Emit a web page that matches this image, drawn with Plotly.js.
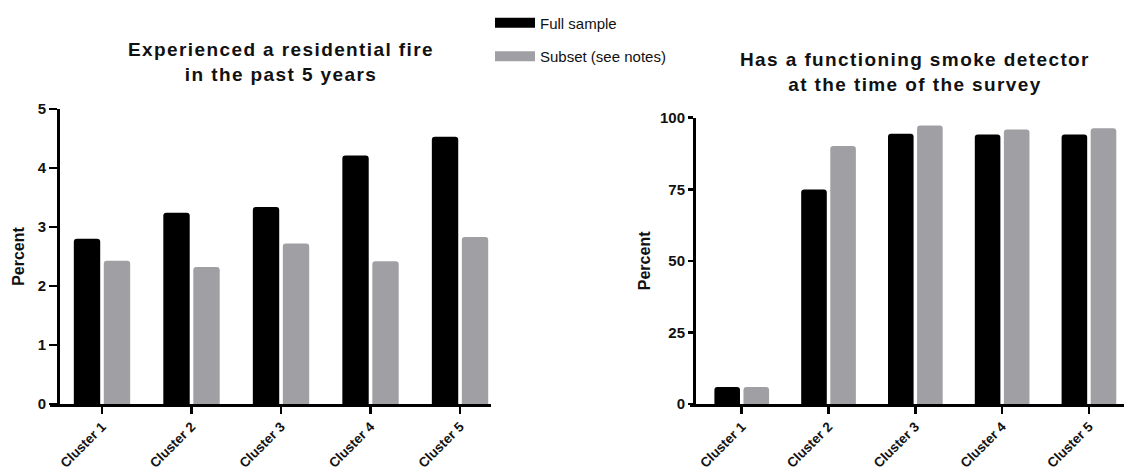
<!DOCTYPE html>
<html>
<head>
<meta charset="utf-8">
<script src="https://cdn.plot.ly/plotly-3.0.1.min.js"></script>
<style>
  html, body { margin: 0; padding: 0; background: #ffffff; }
  #chart { width: 1124px; height: 472px; }
  .annotation-text { letter-spacing: 1.4px; }
</style>
</head>
<body>
<div id="chart"></div>
<script>
// ---- data ----
const categories = ['Cluster 1', 'Cluster 2', 'Cluster 3', 'Cluster 4', 'Cluster 5'];
const seriesNames = ['Full sample', 'Subset (see notes)'];
const fireFull = [2.80, 3.24, 3.34, 4.21, 4.53];
const fireSubset = [2.43, 2.32, 2.72, 2.42, 2.83];
const detectorFull = [5.9, 74.9, 94.4, 94.1, 94.1];
const detectorSubset = [5.9, 90.1, 97.3, 95.9, 96.3];
const fireTicks = [0, 1, 2, 3, 4, 5];
const detectorTicks = [0, 25, 50, 75, 100];
const titleLeft = 'Experienced a residential fire<br>in the past 5 years';
const titleRight = 'Has a functioning smoke detector<br>at the time of the survey';
const yTitle = 'Percent';

// ---- styling ----
const BLACK = '#000000';
const GRAY = '#a0a0a4';
const FONT = 'Liberation Sans, Arial, Helvetica, sans-serif';
const W = 1124, H = 472;
const px = v => v / W;
const py = v => (H - v) / H;

function bar(x, y, color, xa, ya, name) {
  return {
    type: 'bar', x: x, y: y, name: name,
    marker: { color: color, line: { width: 0 } },
    xaxis: xa, yaxis: ya, showlegend: false, hoverinfo: 'x+y'
  };
}

const traces = [
  bar(categories, fireFull, BLACK, 'x', 'y', seriesNames[0]),
  bar(categories, fireSubset, GRAY, 'x', 'y', seriesNames[1]),
  bar(categories, detectorFull, BLACK, 'x2', 'y2', seriesNames[0]),
  bar(categories, detectorSubset, GRAY, 'x2', 'y2', seriesNames[1]),
  // legend-only entries
  { type: 'scatter', mode: 'lines', x: [null], y: [null], name: seriesNames[0],
    line: { color: BLACK, width: 11 }, legendgroup: 'a', showlegend: true, xaxis: 'x', yaxis: 'y' },
  { type: 'scatter', mode: 'lines', x: [null], y: [null], name: seriesNames[1],
    line: { color: GRAY, width: 11 }, legendgroup: 'b', showlegend: true, xaxis: 'x', yaxis: 'y' }
];

const tickFontX = { family: FONT, size: 13.5, color: '#111', weight: 'bold' };
const tickFontY = { family: FONT, size: 15, color: '#111', weight: 'bold' };
const axTitleFont = { family: FONT, size: 16, color: '#111', weight: 'bold' };

function xAxis(domain, range, anchor) {
  return {
    domain: domain, range: range, anchor: anchor, type: 'category',
    tickangle: -45, ticks: 'outside', ticklen: 7, tickwidth: 2.5, tickcolor: BLACK,
    showline: true, linewidth: 2.5, linecolor: BLACK,
    showgrid: false, zeroline: false, tickfont: tickFontX, fixedrange: true
  };
}
function yAxis(domain, range, position, tickvals, ticklen, standoff) {
  return {
    domain: domain, range: range, anchor: 'free', position: position,
    tickmode: 'array', tickvals: tickvals,
    ticks: 'outside', ticklen: ticklen, tickwidth: 2.5, tickcolor: BLACK,
    showline: true, linewidth: 2.5, linecolor: BLACK,
    showgrid: false, zeroline: false, tickfont: tickFontY, fixedrange: true,
    title: { text: yTitle, font: axTitleFont, standoff: standoff }
  };
}

const layout = {
  width: W, height: H,
  margin: { l: 0, r: 0, t: 0, b: 0, pad: 0 },
  paper_bgcolor: '#ffffff', plot_bgcolor: '#ffffff',
  barmode: 'group', bargap: 0.33, bargroupgap: 0.12, barcornerradius: 3,
  font: { family: FONT, color: '#111' },
  xaxis: xAxis([px(50), px(491)], [-0.581, 4.346], 'y'),
  yaxis: yAxis([py(404), py(109)], [0, 5], px(58), fireTicks, 8, 8),
  xaxis2: xAxis([px(690), 1], [-0.596, 4.404], 'y2'),
  yaxis2: yAxis([py(404), py(117.7)], [0, 100], px(694), detectorTicks, 5, 4),
  showlegend: true,
  legend: {
    x: px(490), xanchor: 'left', y: py(6.5), yanchor: 'top',
    orientation: 'v', traceorder: 'grouped', tracegroupgap: 11, itemwidth: 40,
    font: { family: FONT, size: 15, color: '#111' },
    bgcolor: 'rgba(0,0,0,0)', borderwidth: 0
  },
  annotations: [
    { xref: 'paper', yref: 'paper', x: px(281), y: py(62), xanchor: 'center', yanchor: 'middle',
      text: titleLeft, showarrow: false,
      font: { family: FONT, size: 19, color: '#111', weight: 'bold' } },
    { xref: 'paper', yref: 'paper', x: px(915), y: py(72), xanchor: 'center', yanchor: 'middle',
      text: titleRight, showarrow: false,
      font: { family: FONT, size: 19, color: '#111', weight: 'bold' } }
  ]
};

Plotly.newPlot('chart', traces, layout, { displayModeBar: false, staticPlot: true });
</script>
</body>
</html>
